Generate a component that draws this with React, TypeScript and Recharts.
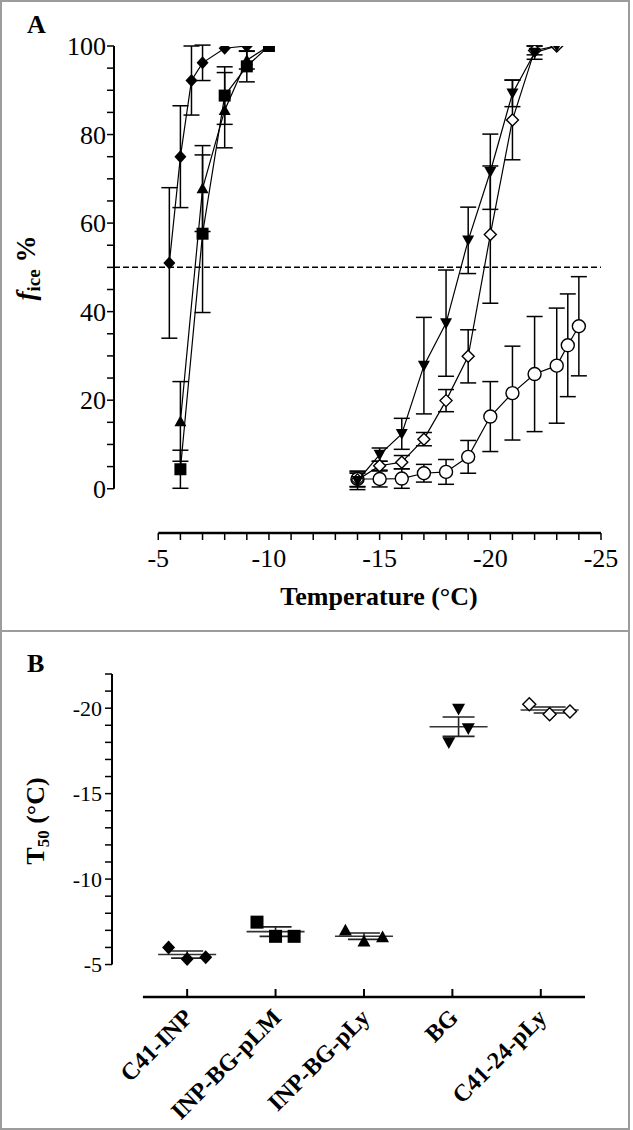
import { ScatterChart, Scatter, XAxis, YAxis, ErrorBar, ReferenceLine } from 'recharts';

const SERIF = '"Liberation Serif", "Times New Roman", serif';

// ---- Panel A: fraction frozen vs temperature ----
const tempC41INP = [-5.5, -6, -6.5, -7, -8, -9];
const ficeC41INP = [51, 75, 92.2, 96.2, 99.5, 100];
const errC41INP = [17, 11.5, 7.8, 4, 0, 0];

const tempPLM = [-6, -7, -8, -9, -10];
const ficePLM = [4.4, 57.6, 88.8, 95.4, 100];
const errPLM = [4.3, 17.8, 6.5, 3.5, 0];

const tempPLy = [-6, -7, -8, -9, -10];
const ficePLy = [15.2, 67.8, 85.5, 96.8, 100];
const errPLy = [9, 9.7, 8.5, 2, 0];

const tempBG = [-14, -15, -16, -17, -18, -19, -20, -21, -22, -23];
const ficeBG = [1.8, 7.7, 12.4, 27.8, 37.4, 56.1, 71.6, 89.3, 98.5, 100];
const errBG = [2, 1.5, 3.5, 10.9, 12, 7.5, 8.5, 3, 1.5, 0];

const tempC4124 = [-14, -15, -16, -17, -18, -19, -20, -21, -22, -23];
const ficeC4124 = [2, 5.2, 6, 11.2, 19.9, 29.9, 57.4, 83.3, 99, 100];
const errC4124 = [1.5, 1, 1.5, 1.5, 2.5, 6, 15.5, 9, 1, 0];

const tempCtrl = [-14, -15, -16, -17, -18, -19, -20, -21, -22, -23, -23.5, -24];
const ficeCtrl = [2.2, 2.2, 2.3, 3.5, 3.8, 7.2, 16.3, 21.6, 25.9, 27.8, 32.4, 36.7];
const errCtrl = [1.8, 1.8, 2.2, 2, 2.8, 3.7, 7.9, 10.6, 13, 13, 11.6, 11.2];

const tempTicks = [-5, -6, -7, -8, -9, -10, -11, -12, -13, -14, -15, -16, -17, -18, -19, -20, -21, -22, -23, -24, -25];
const ficeTicks = [0, 5, 10, 15, 20, 25, 30, 35, 40, 45, 50, 55, 60, 65, 70, 75, 80, 85, 90, 95, 100];

// ---- Panel B: T50 per strain ----
const groups = ['C41-INP', 'INP-BG-pLM', 'INP-BG-pLy', 'BG', 'C41-24-pLy'];
const t50C41INP = [-6.0, -5.33, -5.42];
const t50PLM = [-7.48, -6.65, -6.65];
const t50PLy = [-7.0, -6.36, -6.61];
const t50BG = [-17.99, -19.95, -18.81];
const t50C4124 = [-20.23, -19.65, -19.8];
const groupShift = [0, 0, 0, 0.07, 0.1];
const groupSpread = [0.21, 0.21, 0.21, 0.11, 0.23];
const t50Ticks = [-22, -21, -20, -19, -18, -17, -16, -15, -14, -13, -12, -11, -10, -9, -8, -7, -6, -5];

type Kind = 'diamond' | 'diamondOpen' | 'square' | 'triangle' | 'triangleDown' | 'circleOpen';

function Marker({ cx, cy, kind, s }: { cx?: number; cy?: number; kind: Kind; s: number }) {
    if (cx == null || cy == null) return <g />;
    switch (kind) {
        case 'diamond':
            return <polygon points={`${cx},${cy - s - 0.5} ${cx + s},${cy} ${cx},${cy + s + 0.5} ${cx - s},${cy}`} fill="#000" />;
        case 'diamondOpen':
            return <polygon points={`${cx},${cy - s} ${cx + s},${cy} ${cx},${cy + s} ${cx - s},${cy}`} fill="#fff" stroke="#000" strokeWidth={1.4} />;
        case 'square':
            return <rect x={cx - s} y={cy - s} width={2 * s} height={2 * s} fill="#000" />;
        case 'triangle':
            return <polygon points={`${cx},${cy - s} ${cx + s},${cy + s * 0.8} ${cx - s},${cy + s * 0.8}`} fill="#000" />;
        case 'triangleDown':
            return <polygon points={`${cx - s},${cy - s * 0.8} ${cx + s},${cy - s * 0.8} ${cx},${cy + s}`} fill="#000" />;
        default:
            return <circle cx={cx} cy={cy} r={s} fill="#fff" stroke="#000" strokeWidth={1.4} />;
    }
}

const toPoints = (t: number[], f: number[], e: number[]) => t.map((x, i) => ({ x, y: f[i], err: e[i] }));

const curves: { name: string; kind: Kind; data: { x: number; y: number; err: number }[] }[] = [
    { name: 'C41-INP', kind: 'diamond', data: toPoints(tempC41INP, ficeC41INP, errC41INP) },
    { name: 'INP-BG-pLy', kind: 'triangle', data: toPoints(tempPLy, ficePLy, errPLy) },
    { name: 'INP-BG-pLM', kind: 'square', data: toPoints(tempPLM, ficePLM, errPLM) },
    { name: 'Control', kind: 'circleOpen', data: toPoints(tempCtrl, ficeCtrl, errCtrl) },
    { name: 'C41-24-pLy', kind: 'diamondOpen', data: toPoints(tempC4124, ficeC4124, errC4124) },
    { name: 'BG', kind: 'triangleDown', data: toPoints(tempBG, ficeBG, errBG) },
];

const t50Sets = [t50C41INP, t50PLM, t50PLy, t50BG, t50C4124];
const t50Kinds: Kind[] = ['diamond', 'square', 'triangle', 'triangleDown', 'diamondOpen'];

const mean = (v: number[]) => v.reduce((a, b) => a + b, 0) / v.length;
const sem = (v: number[]) => {
    const m = mean(v);
    const sd = Math.sqrt(v.reduce((a, b) => a + (b - m) * (b - m), 0) / (v.length - 1));
    return sd / Math.sqrt(v.length);
};

const summary = t50Sets.map((v, i) => ({ x: i + 1 + groupShift[i], y: mean(v), err: sem(v) }));

const tickStyleA = { fontFamily: SERIF, fontSize: 26, fill: '#000' };
const tickStyleB = { fontFamily: SERIF, fontSize: 22, fill: '#000' };

function GroupTick(props: any) {
    const { x, y, payload } = props;
    const ax = x + 7;
    const ay = y + 22;
    return (
        <g>
            <line x1={x} y1={y} x2={x} y2={y - 8} stroke="#000" strokeWidth={2} />
            <text x={ax} y={ay} transform={`rotate(-45, ${ax}, ${ay})`} textAnchor="end"
                fontFamily={SERIF} fontWeight="bold" fontSize={24} fill="#000">
                {groups[payload.value - 1]}
            </text>
        </g>
    );
}

function MeanLine(props: any) {
    const { cx, cy } = props;
    if (cx == null || cy == null) return <g />;
    return <line x1={cx - 29} x2={cx + 29} y1={cy} y2={cy} stroke="#333" strokeWidth={1.6} />;
}

function PanelA() {
    return (
        <ScatterChart width={633} height={630} margin={{ top: 46, right: 32, bottom: 37, left: 54 }}>
            <XAxis type="number" dataKey="x" domain={[-25, -3]} reversed allowDataOverflow
                ticks={tempTicks} interval={0} axisLine={false} tickSize={7} tickMargin={9}
                tickLine={{ stroke: '#000', strokeWidth: 1.5 }}
                tickFormatter={(v: number) => (v % 5 === 0 ? String(v) : '')}
                tick={tickStyleA} height={60} />
            <YAxis type="number" dataKey="y" domain={[-10, 100]} allowDataOverflow
                ticks={ficeTicks} interval={0} axisLine={false} tickSize={7} tickMargin={1}
                tickLine={{ stroke: '#000', strokeWidth: 1.5 }}
                tickFormatter={(v: number) => (v % 20 === 0 ? String(v) : '')}
                tick={tickStyleA} width={60} />
            <ReferenceLine segment={[{ x: -3, y: 0 }, { x: -3, y: 100 }]} stroke="#000" strokeWidth={2} ifOverflow="visible" />
            <ReferenceLine segment={[{ x: -5, y: -10 }, { x: -25, y: -10 }]} stroke="#000" strokeWidth={2.5} ifOverflow="visible" />
            <ReferenceLine y={50} stroke="#000" strokeWidth={1.5} strokeDasharray="6 3" />
            {curves.map((c) => (
                <Scatter key={c.name} name={c.name} data={c.data} dataKey="y" isAnimationActive={false}
                    line={{ stroke: '#000', strokeWidth: 1.2 }}
                    shape={(p: any) => <Marker cx={p.cx} cy={p.cy} kind={c.kind} s={c.kind === 'circleOpen' ? 6.5 : 6} />}>
                    <ErrorBar dataKey="err" direction="y" width={8} stroke="#000" strokeWidth={1.5} />
                </Scatter>
            ))}
        </ScatterChart>
    );
}

function PanelB() {
    return (
        <ScatterChart width={633} height={498} margin={{ top: 42, right: 48, bottom: 33, left: 52 }}>
            <XAxis type="number" dataKey="x" domain={[0.15, 5.5]} allowDataOverflow
                ticks={[1, 2, 3, 4, 5]} interval={0} axisLine={false} tickLine={false}
                tickSize={0} tickMargin={0} tick={<GroupTick />} height={100} />
            <YAxis type="number" dataKey="y" domain={[-22, -3.1]} reversed allowDataOverflow
                ticks={t50Ticks} interval={0} axisLine={false} tickSize={7} tickMargin={3}
                tickLine={{ stroke: '#000', strokeWidth: 1.5 }}
                tickFormatter={(v: number) => (v % 5 === 0 ? String(v) : '')}
                tick={tickStyleB} width={60} />
            <ReferenceLine segment={[{ x: 0.15, y: -22 }, { x: 0.15, y: -5 }]} stroke="#000" strokeWidth={2} ifOverflow="visible" />
            <ReferenceLine segment={[{ x: 0.5, y: -3.1 }, { x: 5.5, y: -3.1 }]} stroke="#000" strokeWidth={2.5} ifOverflow="visible" />
            <Scatter name="mean" data={summary} dataKey="y" isAnimationActive={false} shape={<MeanLine />}>
                <ErrorBar dataKey="err" direction="y" width={16} stroke="#222" strokeWidth={1.6} />
            </Scatter>
            {t50Sets.map((v, i) => (
                <Scatter key={groups[i]} name={groups[i]} isAnimationActive={false} dataKey="y"
                    data={v.map((y, j) => ({ x: i + 1 + groupShift[i] + (j - 1) * groupSpread[i], y }))}
                    shape={(p: any) => <Marker cx={p.cx} cy={p.cy} kind={t50Kinds[i]} s={6.5} />} />
            ))}
        </ScatterChart>
    );
}

export default function App() {
    return (
        <div style={{ position: 'absolute', left: 0, top: 0, width: 633, height: 1130, background: '#fff', overflow: 'hidden' }}>
            <div style={{ position: 'absolute', left: 0, top: 0 }}>
                <PanelA />
            </div>
            <div style={{ position: 'absolute', left: 0, top: 632 }}>
                <PanelB />
            </div>
            <div style={{ position: 'absolute', left: 0, top: 0, width: 630, height: 1130, boxSizing: 'border-box', border: '2px solid #9c9c9c', pointerEvents: 'none' }} />
            <div style={{ position: 'absolute', left: 0, top: 630, width: 630, height: 2, background: '#9c9c9c' }} />
            <svg width={633} height={1130} style={{ position: 'absolute', left: 0, top: 0, pointerEvents: 'none' }}
                fontFamily={SERIF} fontWeight="bold" fill="#000">
                <text x={27} y={33} fontSize={26}>A</text>
                <text x={27} y={672} fontSize={26}>B</text>
                <text x={379} y={605} fontSize={26} textAnchor="middle">Temperature (°C)</text>
                <text transform="translate(35, 268) rotate(-90)" fontSize={27} textAnchor="middle">
                    <tspan fontStyle="italic">f</tspan>
                    <tspan fontSize={19} dy={5}>ice</tspan>
                    <tspan dy={-5}> %</tspan>
                </text>
                <text transform="translate(44, 821) rotate(-90)" fontSize={26} textAnchor="middle">
                    <tspan>T</tspan>
                    <tspan fontSize={17} dy={5}>50</tspan>
                    <tspan dy={-5}> (°C)</tspan>
                </text>
            </svg>
        </div>
    );
}
